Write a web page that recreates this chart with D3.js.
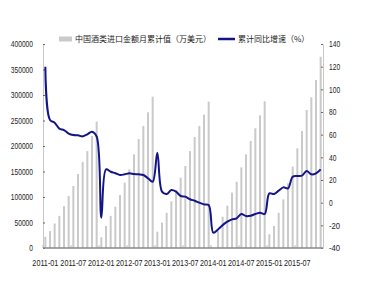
<!DOCTYPE html>
<html>
<head>
<meta charset="utf-8">
<script src="https://d3js.org/d3.v7.min.js"></script>
<style>
  body { margin: 0; background: #fff; }
  .tick text { font-family: "Liberation Sans", Arial, sans-serif; font-size: 8.5px; fill: #222; }
  .legend text { font-family: "Noto Sans CJK SC", sans-serif; font-size: 8px; fill: #222; }
</style>
</head>
<body>
<script>
// categories: monthly, 2011-01 .. 2015-12
var years = ["2011", "2012", "2013", "2014", "2015"];
var monthNums = ["01","02","03","04","05","06","07","08","09","10","11","12"];
var months = [];
years.forEach(function(y) { monthNums.forEach(function(m) { months.push(y + "-" + m); }); });

// cumulative import value (10k USD)
var importValue = [
  22000, 33000, 48000, 63000, 82000, 102000, 121500, 145000, 169000, 190000, 219600, 247700,
  21000, 43000, 63000, 81000, 104000, 128000, 154000, 183700, 213700, 239000, 266000, 296700,
  32000, 49600, 69000, 91500, 113700, 137800, 160800, 190000, 217700, 239000, 261400, 287000,
  null, 33000, 61400, 83000, 108500, 130000, 158000, 183700, 209800, 234700, 260000, 287600,
  26800, 43000, 69000, 95500, 126800, 159500, 195500, 229400, 270600, 295500, 329400, 375000
];

// cumulative yoy growth (%)
var growth = [
  120, 73, 70.6, 65.3, 64, 61, 59.7, 59.4, 58.5, 60.3, 62.6, 58.2,
  -13.3, 29.4, 27.3, 26, 24.4, 25, 25.9, 25.3, 25, 24.4, 21.5, 18.5,
  44.1, 9.7, 7.6, 11.1, 9.7, 5.9, 5.3, 3, 1.7, 0, -1.5, -2.1,
  -26.5, -23.6, -19.8, -16.8, -14.7, -13.8, -10, -11.8, -11.5, -10, -8.9, -10,
  8.2, 7.6, 10.6, 13.5, 12.6, 22.9, 23.5, 23.8, 28, 25, 25.9, 29.4
];

var tickLabels = ["2011-01", "2011-07", "2012-01", "2012-07", "2013-01",
                  "2013-07", "2014-01", "2014-07", "2015-01", "2015-07"];
var leftTicks = [0, 50000, 100000, 150000, 200000, 250000, 300000, 350000, 400000];
var rightTicks = [-40, -20, 0, 20, 40, 60, 80, 100, 120, 140];
var legendNames = ["中国酒类进口金额月累计值（万美元）", "累计同比增速（%）"];

var w = 367, h = 289;
var plotLeft = 43, plotRight = 323, plotTop = 44, plotBottom = 248;

var svg = d3.select("body").append("svg")
  .attr("width", w)
  .attr("height", h);

var x = d3.scaleBand().domain(months).range([plotLeft, plotRight]).padding(0);
var yL = d3.scaleLinear().domain([0, 400000]).range([plotBottom, plotTop]);
var yR = d3.scaleLinear().domain([-40, 140]).range([plotBottom, plotTop]);

var barW = 2;

// bars
svg.selectAll("rect.bar")
  .data(months.map(function(m, i) { return {m: m, v: importValue[i]}; })
               .filter(function(d) { return d.v != null; }))
  .enter().append("rect")
  .attr("class", "bar")
  .attr("x", function(d) { return x(d.m) + x.bandwidth() / 2 - barW / 2; })
  .attr("y", function(d) { return yL(d.v); })
  .attr("width", barW)
  .attr("height", function(d) { return plotBottom - yL(d.v); })
  .attr("fill", "#cacaca");

// narrow digits like the original, ~3.7px per character
function squeeze(sel) {
  sel.attr("textLength", function() { return this.textContent.length * 3.7; })
     .attr("lengthAdjust", "spacingAndGlyphs");
}

// left axis
var gL = svg.append("g")
  .attr("transform", "translate(" + plotLeft + ",0)")
  .call(d3.axisLeft(yL).tickValues(leftTicks).tickFormat(function(d) { return String(d); })
          .tickSizeInner(-2).tickSizeOuter(0).tickPadding(10));
gL.select(".domain").attr("stroke", "#c8c8c8");
gL.selectAll(".tick line").attr("stroke", "#666");
gL.selectAll(".tick text").call(squeeze);

// right axis
var gR = svg.append("g")
  .attr("transform", "translate(" + plotRight + ",0)")
  .call(d3.axisRight(yR).tickValues(rightTicks).tickFormat(function(d) { return String(d); })
          .tickSizeInner(-2).tickSizeOuter(0).tickPadding(6));
gR.select(".domain").attr("stroke", "#c8c8c8");
gR.selectAll(".tick line").attr("stroke", "#666");
gR.selectAll(".tick text").call(squeeze);

// bottom axis: labels centred on the category, ticks at category starts
var gB = svg.append("g")
  .attr("transform", "translate(0," + plotBottom + ")")
  .call(d3.axisBottom(x).tickValues(tickLabels).tickSize(0).tickPadding(15));
gB.select(".domain").remove();
gB.selectAll(".tick text").attr("dy", "0.35em")
  .attr("transform", "scale(0.85,1)");

svg.selectAll("line.xtick")
  .data(tickLabels)
  .enter().append("line")
  .attr("class", "xtick")
  .attr("x1", function(d) { return x(d); })
  .attr("x2", function(d) { return x(d); })
  .attr("y1", plotBottom - 3)
  .attr("y2", plotBottom)
  .attr("stroke", "#bbbbbb");

svg.append("line")
  .attr("x1", plotLeft).attr("x2", plotRight)
  .attr("y1", plotBottom).attr("y2", plotBottom)
  .attr("stroke", "#888888")
  .attr("stroke-width", 1.6);

// growth line
var line = d3.line()
  .x(function(d, i) { return x(months[i]) + x.bandwidth() / 2; })
  .y(function(d) { return yR(d); })
  .curve(d3.curveCatmullRom.alpha(0.5));

svg.append("path")
  .datum(growth)
  .attr("d", line)
  .attr("fill", "none")
  .attr("stroke", "#14148a")
  .attr("stroke-width", 2);

// legend
var lg = svg.append("g").attr("class", "legend");
lg.append("rect")
  .attr("x", 59).attr("y", 36.5).attr("width", 13).attr("height", 5)
  .attr("fill", "#cacaca");
lg.append("text")
  .attr("x", 75).attr("y", 39).attr("dy", "0.35em")
  .text(legendNames[0]);
lg.append("line")
  .attr("x1", 218).attr("x2", 235).attr("y1", 39).attr("y2", 39)
  .attr("stroke", "#14148a").attr("stroke-width", 2.5);
lg.append("text")
  .attr("x", 238).attr("y", 39).attr("dy", "0.35em")
  .text(legendNames[1]);
</script>
</body>
</html>
